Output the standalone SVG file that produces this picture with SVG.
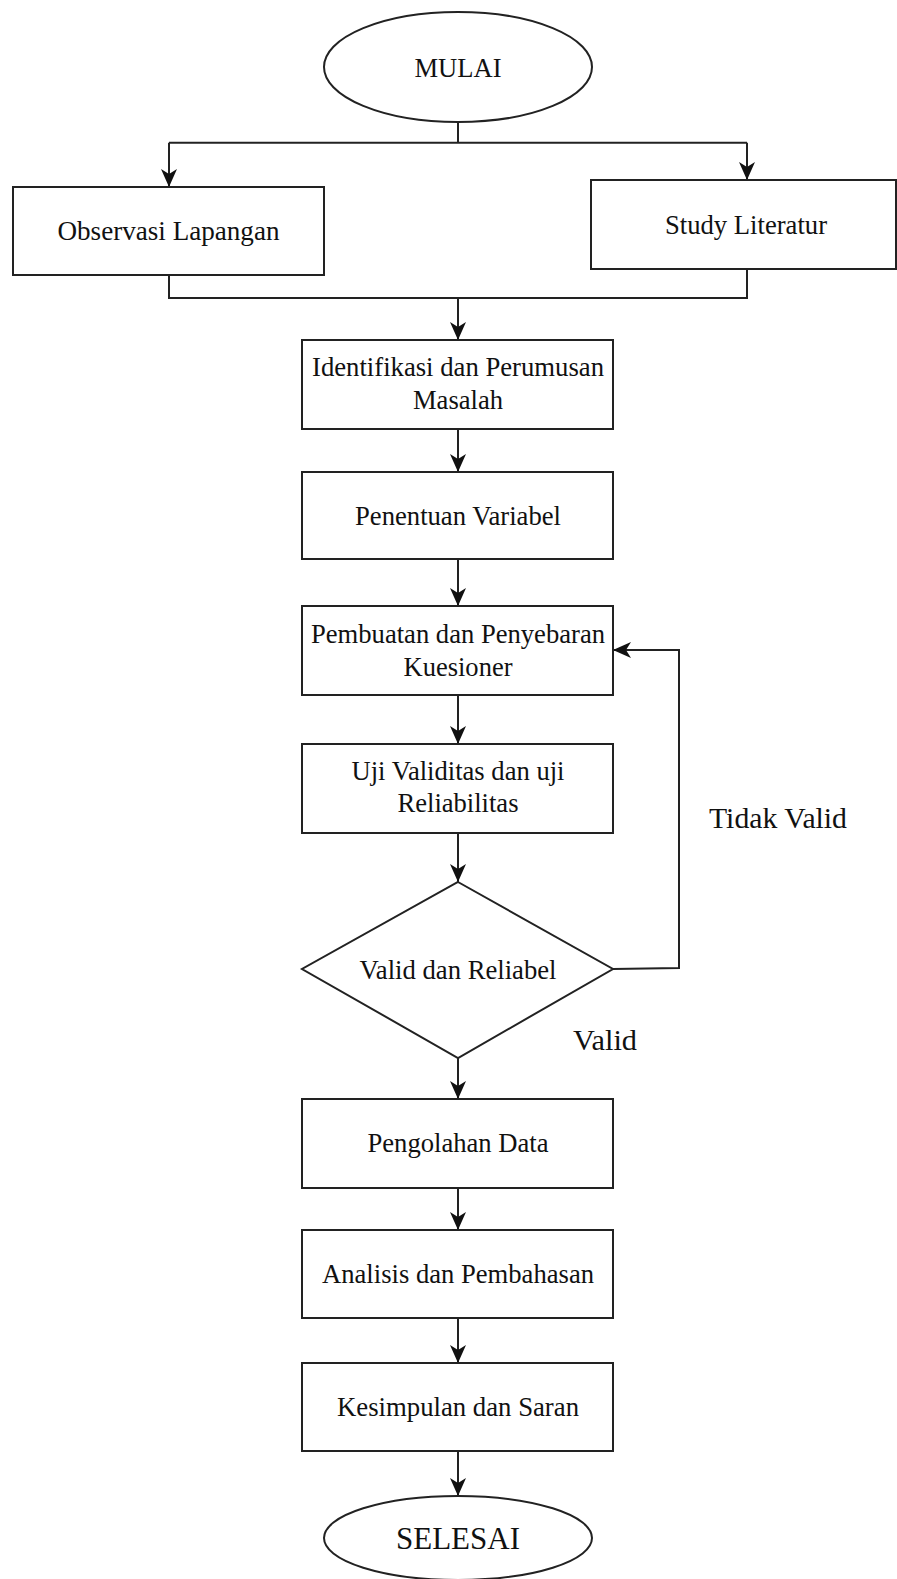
<svg xmlns="http://www.w3.org/2000/svg" width="897" height="1579" viewBox="0 0 897 1579">
<style>
.shape{fill:#fff;stroke:#222;stroke-width:2}
.conn{fill:none;stroke:#222;stroke-width:2}
.t{font-family:"Liberation Serif","Times New Roman",serif;font-size:28px;fill:#111;text-anchor:middle}
.lbl{font-family:"Liberation Serif","Times New Roman",serif;font-size:30px;fill:#111}
</style>
<defs>
<marker id="arr" viewBox="0 0 18 16" refX="18" refY="8" markerWidth="18" markerHeight="16" markerUnits="userSpaceOnUse" orient="auto">
<path d="M0,0 L18,8 L0,16 L5,8 z" fill="#111"/>
</marker>
</defs>
<rect width="897" height="1579" fill="#fff"/>
<g id="connectors">
<path class="conn" d="M458,122 V142.7"/>
<path class="conn" d="M169,142.7 H747"/>
<path class="conn" d="M169,142.7 V187" marker-end="url(#arr)"/>
<path class="conn" d="M747,142.7 V180" marker-end="url(#arr)"/>
<path class="conn" d="M169,275 V298 H747 V269"/>
<path class="conn" d="M458,298 V340" marker-end="url(#arr)"/>
<path class="conn" d="M458,429 V472" marker-end="url(#arr)"/>
<path class="conn" d="M458,559 V606" marker-end="url(#arr)"/>
<path class="conn" d="M458,695 V744" marker-end="url(#arr)"/>
<path class="conn" d="M458,833 V882" marker-end="url(#arr)"/>
<path class="conn" d="M458,1058 V1099" marker-end="url(#arr)"/>
<path class="conn" d="M458,1188 V1230" marker-end="url(#arr)"/>
<path class="conn" d="M458,1318 V1363" marker-end="url(#arr)"/>
<path class="conn" d="M458,1451 V1496" marker-end="url(#arr)"/>
<path class="conn" d="M613,969 L679,968 V650 H613" marker-end="url(#arr)"/>
</g>
<g id="mulai">
<ellipse class="shape" cx="458" cy="67" rx="134" ry="55"/>
<text class="t" x="458" y="77" textLength="87" lengthAdjust="spacingAndGlyphs">MULAI</text>
</g>
<g id="observasi">
<rect class="shape" x="13" y="187" width="311" height="88"/>
<text class="t" x="168.5" y="240" textLength="222" lengthAdjust="spacingAndGlyphs">Observasi Lapangan</text>
</g>
<g id="study">
<rect class="shape" x="591" y="180" width="305" height="89"/>
<text class="t" x="746" y="234" textLength="162" lengthAdjust="spacingAndGlyphs">Study Literatur</text>
</g>
<g id="identifikasi">
<rect class="shape" x="302" y="340" width="311" height="89"/>
<text class="t" x="458" y="376" textLength="292" lengthAdjust="spacingAndGlyphs">Identifikasi dan Perumusan</text>
<text class="t" x="458" y="409" textLength="90" lengthAdjust="spacingAndGlyphs">Masalah</text>
</g>
<g id="penentuan">
<rect class="shape" x="302" y="472" width="311" height="87"/>
<text class="t" x="458" y="525" textLength="206" lengthAdjust="spacingAndGlyphs">Penentuan Variabel</text>
</g>
<g id="pembuatan">
<rect class="shape" x="302" y="606" width="311" height="89"/>
<text class="t" x="458" y="643" textLength="294" lengthAdjust="spacingAndGlyphs">Pembuatan dan Penyebaran</text>
<text class="t" x="458" y="676" textLength="109" lengthAdjust="spacingAndGlyphs">Kuesioner</text>
</g>
<g id="uji">
<rect class="shape" x="302" y="744" width="311" height="89"/>
<text class="t" x="458" y="780" textLength="213" lengthAdjust="spacingAndGlyphs">Uji Validitas dan uji</text>
<text class="t" x="458" y="812" textLength="121" lengthAdjust="spacingAndGlyphs">Reliabilitas</text>
</g>
<g id="keputusan">
<polygon class="shape" points="458,882 613,969 458,1058 302,969"/>
<text class="t" x="458" y="979" textLength="197" lengthAdjust="spacingAndGlyphs">Valid dan Reliabel</text>
</g>
<g id="pengolahan">
<rect class="shape" x="302" y="1099" width="311" height="89"/>
<text class="t" x="458" y="1152" textLength="181" lengthAdjust="spacingAndGlyphs">Pengolahan Data</text>
</g>
<g id="analisis">
<rect class="shape" x="302" y="1230" width="311" height="88"/>
<text class="t" x="458" y="1283" textLength="272" lengthAdjust="spacingAndGlyphs">Analisis dan Pembahasan</text>
</g>
<g id="kesimpulan">
<rect class="shape" x="302" y="1363" width="311" height="88"/>
<text class="t" x="458" y="1416" textLength="242" lengthAdjust="spacingAndGlyphs">Kesimpulan dan Saran</text>
</g>
<g id="selesai">
<ellipse class="shape" cx="458" cy="1538" rx="134" ry="42"/>
<text class="t" x="458" y="1549" style="font-size:31px" textLength="124" lengthAdjust="spacingAndGlyphs">SELESAI</text>
</g>
<g id="labels">
<text class="lbl" x="709" y="828" textLength="138" lengthAdjust="spacingAndGlyphs">Tidak Valid</text>
<text class="lbl" x="573" y="1050" textLength="64" lengthAdjust="spacingAndGlyphs">Valid</text>
</g>
</svg>
